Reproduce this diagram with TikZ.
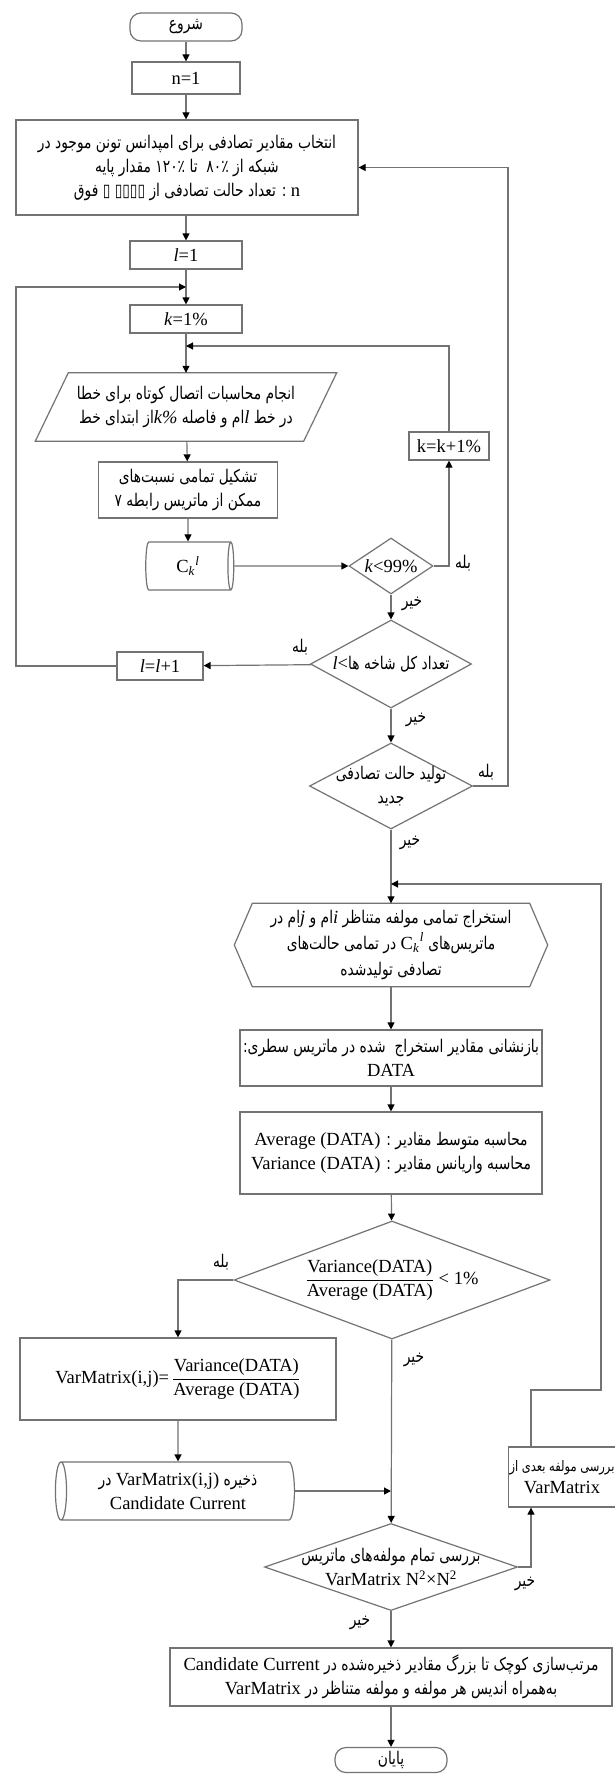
\documentclass[tikz,border=0pt]{standalone}
\usepackage{fontspec}
\setmainfont{Liberation Serif}
\newfontfamily\fa[Script=Arabic,FakeStretch=0.79]{DejaVu Sans}
\usetikzlibrary{shapes.geometric,calc,arrows.meta}
\TeXXeTstate=1
\definecolor{lc}{gray}{0.45}
\newcommand\lat{\rmfamily\fontsize{18.5}{21}\selectfont}
\newcommand\myL[1]{\beginL{\lat #1}\endL}
\newcommand\fas{\fa\fontsize{17.5}{24}\selectfont}
\newcommand\fash{\fa\fontsize{17.5}{26}\selectfont}
\newcommand\fasm{\fa\fontsize{14.5}{22}\selectfont}
\newcommand\Ckl{C\textsubscript{\itshape k}\kern0.5pt\raisebox{0.15ex}{\textsuperscript{\itshape l}}}
\begin{document}
\begin{tikzpicture}[x=1pt,y=-1pt,
  ln/.style={draw=lc,line width=1.2pt},
  arr/.style={draw=lc,line width=1.2pt,-{Triangle[length=7pt,width=7pt,color=black]}},
  bx/.style={draw=lc,line width=1.2pt,rectangle,inner sep=1pt,align=center,font=\lat},
  term/.style={bx,rounded corners=11pt,font=\fas},
  dec/.style={draw=lc,line width=1.2pt,diamond,inner sep=0pt},
  dt/.style={inner sep=0pt,align=center},
  yn/.style={font=\fas,inner sep=0pt},
  cyl/.style={cylinder,draw=lc,line width=1.2pt,inner sep=0pt,align=center},
]
\fill[white] (0,0) rectangle (614,1774);
\useasboundingbox (0,0) rectangle (614,1774);

% ---------- nodes ----------
\node[term,minimum width=112,minimum height=28] (st) at (186,27) {\beginR شروع\endR};
\node[bx,minimum width=108,minimum height=32] (n1) at (186,78) {n=1};
\node[bx,font=\fas,minimum width=342,minimum height=95] (big) at (187,167.5)
  {\beginR انتخاب مقادیر تصادفی برای امپدانس تونن موجود در\endR\\
   \beginR شبکه از ۸۰٪ ~تا ۱۲۰٪ مقدار پایه\endR\\
   \beginR{\lat n} : تعداد حالت تصادفی از ▯▯▯▯ ▯ فوق\endR};
\node[bx,minimum width=112,minimum height=28] (l1) at (186,255) {\textit{l}=1};
\node[bx,minimum width=112,minimum height=28] (k1) at (186,319) {\textit{k}=1\%};
\node[align=center,font=\fas,minimum width=268,minimum height=68,inner sep=0pt] (pa) at (186,407)
  {\beginR انجام محاسبات اتصال کوتاه برای خطا\endR\\
   \beginR در خط {\lat\itshape l}ام و فاصله \myL{\itshape k\%}از ابتدای خط\endR};
\draw[ln] ($(pa.north west)+(16.5,0)$) -- ($(pa.north east)+(16.5,0)$) -- ($(pa.south east)+(-16.5,0)$) -- ($(pa.south west)+(-16.5,0)$) -- cycle;
\node[bx,minimum width=80,minimum height=28] (kp) at (449,446) {k=k+1\%};
\node[bx,font=\fas,minimum width=179,minimum height=56] (tk) at (188,490)
  {\beginR تشکیل تمامی نسبت‌های\endR\\ \beginR ممکن از ماتریس رابطه ۷\endR};
\node[cyl,minimum width=48,minimum height=88,shape aspect=0.3,font=\lat] (cy) at (188,566) {\Ckl};
\node[dec,minimum width=84,minimum height=56,label={[dt,font=\lat]center:\textit{k}<99\%}] (d1) at (391,566) {};
\node[dec,minimum width=161,minimum height=88,label={[dt,font=\fas]center:{\lat\textit{l}<}\beginR تعداد کل شاخه ها\endR}] (d2) at (391,664) {};
\node[bx,minimum width=86,minimum height=28] (ll) at (160,666) {\textit{l}=\textit{l}+1};
\node[dec,minimum width=163,minimum height=86,label={[dt,font=\fas]center:\beginR تولید حالت تصادفی\endR\\\beginR جدید\endR}] (d3) at (391,786) {};
\node[align=center,font=\fash,minimum width=313,minimum height=83,inner sep=0pt] (hx) at (391,945)
  {\beginR استخراج تمامی مولفه متناظر {\lat\itshape i}ام و {\lat\itshape j}ام در\endR\\
   \beginR ماتریس‌های \myL{\Ckl} در تمامی حالت‌های\endR\\
   \beginR تصادفی تولیدشده\endR};
\draw[ln] ($(hx.north west)+(18,0)$) -- ($(hx.north east)+(-18,0)$) -- (hx.east) -- ($(hx.south east)+(-18,0)$) -- ($(hx.south west)+(18,0)$) -- (hx.west) -- cycle;
\node[bx,font=\fas,minimum width=302,minimum height=56] (bz) at (391,1058)
  {\beginR بازنشانی مقادیر استخراج ~شده در ماتریس سطری:\endR\\ {\lat DATA}};
\node[bx,font=\fas,minimum width=302,minimum height=82] (mh) at (391,1153)
  {\beginR محاسبه متوسط مقادیر : \myL{Average (DATA)}\endR\\
   \beginR محاسبه واریانس مقادیر : \myL{Variance (DATA)}\endR};
\node[dec,minimum width=316,minimum height=118,label={[dt,font=\lat]center:$\displaystyle\frac{\mbox{Variance(DATA)}}{\mbox{Average (DATA)}}\mbox{ < 1\%}$}] (d4) at (392,1280) {};
\node[bx,minimum width=316,minimum height=82] (vm) at (178,1379)
  {VarMatrix(i,j)=\,$\displaystyle\frac{\mbox{Variance(DATA)}}{\mbox{Average (DATA)}}$};
\node[cyl,shape border rotate=180,minimum width=58,minimum height=239,shape aspect=0.3,font=\fas] (cy2) at (178,1491)
  {\beginR ذخیره \myL{VarMatrix(i,j)} در\endR\\ {\lat Candidate Current}};
\node[bx,font=\fasm,minimum width=100,minimum height=60] (ck) at (562,1477)
  {\beginR بررسی مولفه بعدی از\endR\\ {\lat VarMatrix}};
\node[dec,minimum width=253,minimum height=87,label={[dt,font=\fas]center:\beginR بررسی تمام مولفه‌های ماتریس\endR\\{\lat VarMatrix N\textsuperscript{2}×N\textsuperscript{2}}}] (d5) at (391,1567) {};
\node[bx,font=\fas,minimum width=442,minimum height=58] (fin) at (391,1677)
  {\beginR مرتب‌سازی کوچک تا بزرگ مقادیر ذخیره‌شده در \myL{Candidate Current}\endR\\
   \beginR به‌همراه اندیس هر مولفه و مولفه متناظر در \myL{VarMatrix}\endR};
\node[term,minimum width=112,minimum height=25] (en) at (391,1760) {\beginR پایان\endR};

% yes / no labels
\node[yn] (y1) at (463,563) {\beginR بله\endR};
\node[yn] (n1l) at (412,604) {\beginR خیر\endR};
\node[yn] (y2) at (300,647) {\beginR بله\endR};
\node[yn] (n2l) at (416,720) {\beginR خیر\endR};
\node[yn] (y3) at (486,772) {\beginR بله\endR};
\node[yn] (n3l) at (410,843) {\beginR خیر\endR};
\node[yn] (y4) at (221,1262) {\beginR بله\endR};
\node[yn] (n4l) at (414,1360) {\beginR خیر\endR};
\node[yn] (n5r) at (525,1584) {\beginR خیر\endR};
\node[yn] (n5l) at (360,1623) {\beginR خیر\endR};

% ---------- helper coordinates ----------
\coordinate (lpA) at (16,666);
\coordinate (lpB) at (16,287);
\coordinate (lpC) at (186,287);
\coordinate (kjA) at (186,346);
\coordinate (fbA) at (508,786);
\coordinate (fbB) at (508,167.5);
\coordinate (ckA) at (531,1567);
\coordinate (ckB) at (531,1390);
\coordinate (ckC) at (601,1390);
\coordinate (ckD) at (601,884);
\coordinate (ckE) at (391,884);

% ---------- connectors ----------
\draw[arr] (st) -- (n1);
\draw[arr] (n1) -- (n1 |- big.north);
\draw[arr] (n1 |- big.south) -- (l1);
\draw[arr] (l1) -- (k1);
\draw[arr] (ll.west) -- (lpA) -- (lpB) -- (lpC);
\draw[arr] (k1) -- (pa);
\draw[arr] (kp.north) |- (kjA);
\draw[arr] (pa) -- (tk);
\draw[arr] (tk) -- (cy);
\draw[arr] (cy) -- (d1);
\draw[arr] (d1.east) -| (kp.south);
\draw[arr] (d1) -- (d2);
\draw[arr] (d2) -- (ll);
\draw[arr] (d2) -- (d3);
\draw[arr] (d3.east) -- (fbA) -- (fbB) -- (big.east);
\draw[arr] (d3) -- (hx);
\draw[arr] (hx) -- (bz);
\draw[arr] (bz) -- (mh);
\draw[arr] (mh) -- (d4);
\draw[arr] (d4.west) -| (vm.north);
\draw[arr] (vm) -- (cy2);
\draw[arr] (cy2) -- (cy2 -| d5);
\draw[arr] (d4) -- (d5);
\draw[arr] (d5.east) -- (ckA) -- (ckA |- ck.south);
\draw[arr] (ckB |- ck.north) -- (ckB) -- (ckC) -- (ckD) -- (ckE);
\draw[arr] (d5) -- (fin);
\draw[arr] (fin) -- (en);
\end{tikzpicture}
\end{document}
